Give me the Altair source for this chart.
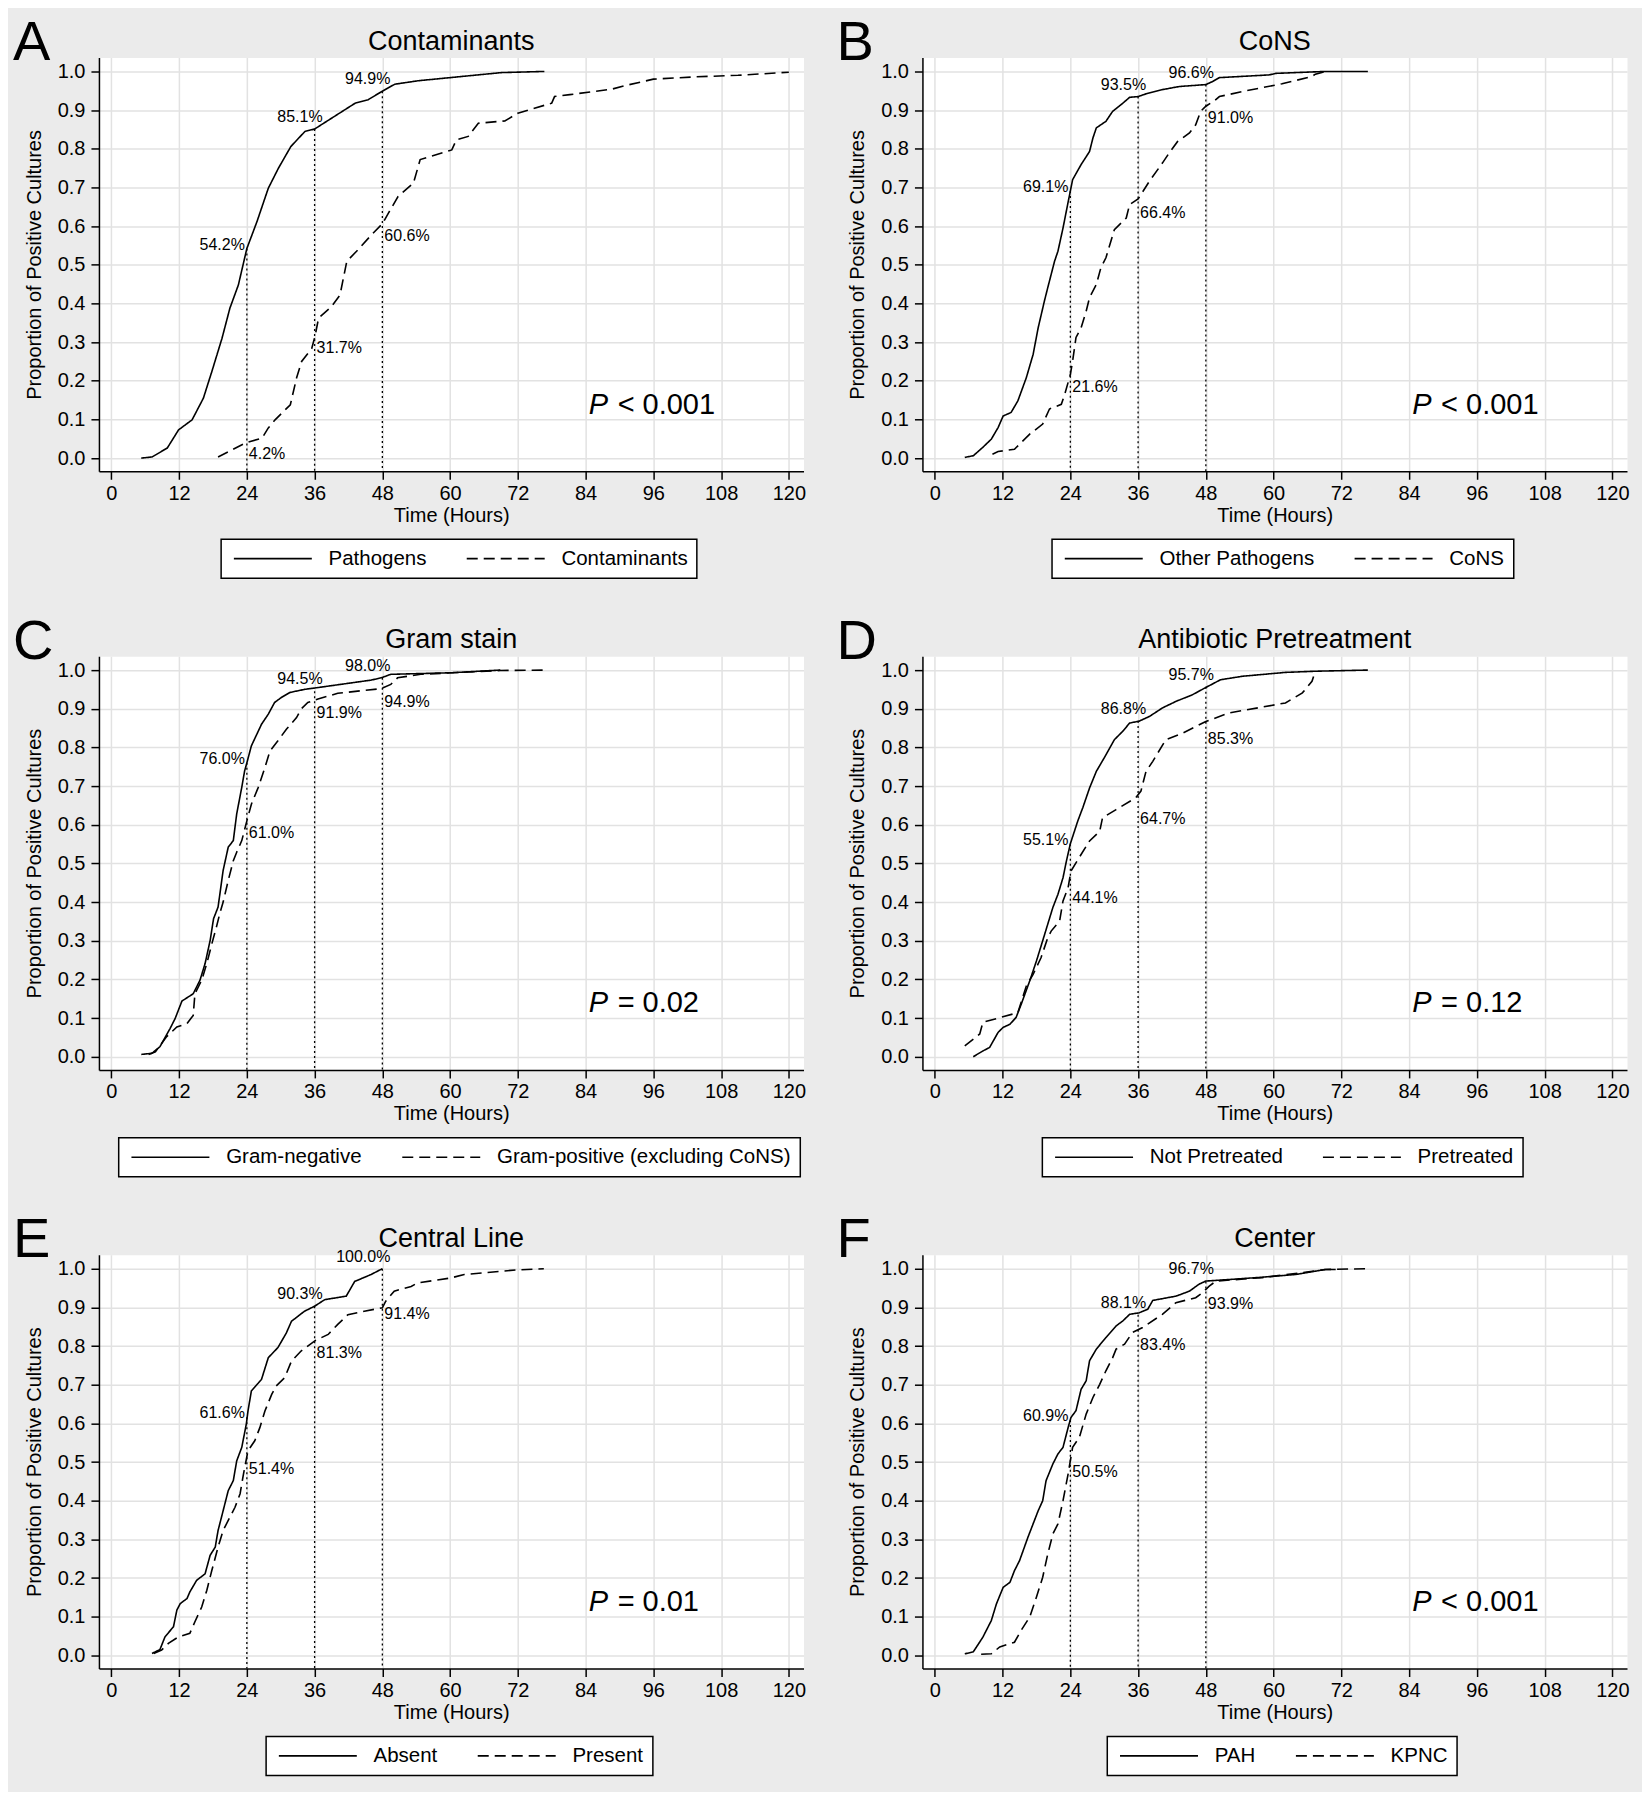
import altair as alt
import pandas as pd

FONT = "Liberation Sans, Arial, Helvetica, sans-serif"

# ---------------- data ----------------
MARK_TIMES = [24, 36, 48]

# Panel A - Contaminants
A_PATH_T = [5.3, 7.2, 9.9, 11.9, 14.3, 16.3, 17.8, 19.6, 21.0, 22.5, 23.6, 24.0, 25.8, 27.8, 29.6, 31.8, 34.3, 36.0, 39.0, 43.2, 45.5, 48.0, 50.2, 54.4, 60.0, 69.1, 76.7]
A_PATH_P = [0.0, 0.003, 0.026, 0.073, 0.099, 0.155, 0.224, 0.31, 0.388, 0.448, 0.517, 0.542, 0.612, 0.698, 0.75, 0.806, 0.845, 0.851, 0.879, 0.918, 0.927, 0.949, 0.967, 0.976, 0.984, 0.997, 1.0]
A_CONT_T = [18.9, 23.7, 26.7, 27.8, 29.0, 31.7, 32.8, 33.7, 35.5, 36.1, 36.7, 39.0, 40.5, 41.7, 43.7, 46.1, 48.0, 49.1, 50.8, 53.5, 54.7, 60.3, 61.1, 63.2, 65.0, 69.7, 72.0, 78.0, 78.5, 81.2, 88.6, 90.9, 96.0, 103.5, 111.0, 120.0]
A_CONT_P = [0.003, 0.039, 0.052, 0.078, 0.099, 0.138, 0.207, 0.25, 0.284, 0.317, 0.362, 0.392, 0.422, 0.509, 0.539, 0.578, 0.606, 0.634, 0.677, 0.711, 0.772, 0.797, 0.823, 0.832, 0.866, 0.872, 0.892, 0.918, 0.935, 0.94, 0.954, 0.963, 0.98, 0.986, 0.99, 0.998]
A_UPPER = [54.2, 85.1, 94.9]
A_LOWER = [4.2, 31.7, 60.6]

# Panel B - CoNS
B_OTH_T = [5.3, 6.8, 8.5, 10.0, 11.2, 12.1, 13.5, 14.7, 16.2, 17.4, 18.3, 19.4, 20.0, 21.2, 21.8, 22.7, 23.4, 24.0, 24.4, 25.9, 27.4, 28.0, 28.6, 30.3, 31.5, 33.3, 34.5, 36.0, 37.4, 40.3, 43.3, 48.0, 49.2, 50.4, 59.2, 60.4, 69.2, 76.7]
B_OTH_P = [0.002, 0.006, 0.028, 0.049, 0.079, 0.109, 0.118, 0.148, 0.208, 0.268, 0.337, 0.406, 0.441, 0.509, 0.535, 0.595, 0.647, 0.691, 0.72, 0.759, 0.793, 0.828, 0.854, 0.871, 0.897, 0.918, 0.933, 0.935, 0.942, 0.953, 0.961, 0.966, 0.974, 0.984, 0.991, 0.995, 1.0, 1.0]
B_CONS_T = [10.2, 11.2, 14.1, 16.8, 19.1, 20.3, 22.4, 23.0, 24.0, 24.4, 25.0, 25.9, 26.8, 27.4, 28.6, 29.4, 30.3, 31.8, 33.9, 34.5, 36.0, 38.0, 40.3, 41.5, 43.0, 45.1, 46.2, 47.1, 48.0, 49.5, 50.4, 55.1, 61.5, 66.8, 67.4, 69.2]
B_CONS_P = [0.010, 0.017, 0.023, 0.062, 0.088, 0.127, 0.139, 0.165, 0.216, 0.251, 0.312, 0.337, 0.38, 0.415, 0.449, 0.492, 0.518, 0.591, 0.621, 0.656, 0.67, 0.716, 0.763, 0.789, 0.819, 0.841, 0.862, 0.897, 0.910, 0.924, 0.935, 0.95, 0.968, 0.987, 0.993, 1.0]
B_UPPER = [69.1, 93.5, 96.6]
B_LOWER = [21.6, 66.4, 91.0]

# Panel C - Gram stain
C_NEG_T = [5.3, 7.2, 8.6, 10.4, 11.3, 12.5, 14.5, 15.7, 16.6, 17.5, 18.1, 18.9, 19.8, 20.7, 21.6, 22.2, 23.1, 23.6, 24.0, 24.8, 26.6, 27.8, 28.9, 30.1, 31.6, 34.2, 37.2, 46.0, 47.8, 49.5, 60.1, 68.9]
C_NEG_P = [0.006, 0.009, 0.026, 0.073, 0.099, 0.144, 0.163, 0.198, 0.241, 0.301, 0.357, 0.387, 0.482, 0.542, 0.559, 0.628, 0.697, 0.739, 0.760, 0.804, 0.86, 0.886, 0.916, 0.929, 0.942, 0.95, 0.956, 0.974, 0.98, 0.989, 0.993, 1.0]
C_POS_T = [6.6, 7.8, 9.8, 11.6, 13.4, 14.5, 14.8, 16.0, 16.9, 17.8, 18.6, 19.2, 19.8, 20.7, 21.6, 22.2, 23.1, 24.0, 24.8, 26.0, 27.2, 28.1, 29.5, 31.0, 32.8, 33.6, 34.8, 36.6, 40.1, 47.8, 49.5, 50.7, 54.8, 68.9, 76.6]
C_POS_P = [0.006, 0.013, 0.052, 0.077, 0.086, 0.107, 0.163, 0.198, 0.241, 0.292, 0.335, 0.37, 0.4, 0.456, 0.507, 0.529, 0.559, 0.610, 0.653, 0.696, 0.748, 0.791, 0.817, 0.847, 0.877, 0.899, 0.916, 0.925, 0.94, 0.952, 0.963, 0.98, 0.989, 0.999, 1.0]
C_UPPER = [76.0, 94.5, 98.0]
C_LOWER = [61.0, 91.9, 94.9]

# Panel D - Antibiotic Pretreatment
D_NOT_T = [6.8, 8.5, 9.7, 11.2, 12.1, 13.3, 14.4, 15.3, 16.8, 18.0, 19.1, 20.0, 20.9, 21.8, 22.7, 23.3, 24.0, 25.3, 26.2, 27.4, 28.6, 30.0, 31.8, 33.3, 34.5, 36.2, 38.0, 40.3, 42.7, 45.6, 48.0, 50.6, 54.5, 62.1, 67.4, 76.7]
D_NOT_P = [0.0, 0.015, 0.024, 0.063, 0.076, 0.084, 0.102, 0.136, 0.196, 0.248, 0.3, 0.343, 0.386, 0.42, 0.463, 0.506, 0.551, 0.609, 0.644, 0.695, 0.738, 0.773, 0.82, 0.842, 0.863, 0.868, 0.88, 0.902, 0.919, 0.936, 0.955, 0.975, 0.984, 0.994, 0.997, 1.0]
D_PRE_T = [5.3, 7.95, 8.5, 14.7, 16.2, 17.4, 18.8, 20.0, 20.6, 22.1, 22.7, 23.6, 24.1, 25.9, 27.4, 29.2, 29.7, 32.1, 35.6, 36.5, 37.4, 38.6, 40.9, 43.9, 48.0, 52.1, 62.1, 65.1, 66.8, 67.4]
D_PRE_P = [0.028, 0.059, 0.089, 0.114, 0.183, 0.213, 0.256, 0.308, 0.325, 0.351, 0.403, 0.437, 0.48, 0.523, 0.558, 0.583, 0.618, 0.639, 0.67, 0.687, 0.738, 0.764, 0.82, 0.837, 0.867, 0.889, 0.915, 0.941, 0.971, 0.998]
D_UPPER = [55.1, 86.8, 95.7]
D_LOWER = [44.1, 64.7, 85.3]

# Panel E - Central Line
E_ABS_T = [7.2, 8.6, 9.5, 11.0, 11.6, 12.2, 13.4, 13.9, 15.1, 16.6, 17.5, 18.4, 18.9, 19.5, 20.7, 21.6, 22.2, 23.1, 23.9, 24.2, 24.8, 26.6, 27.8, 29.5, 31.0, 31.9, 34.2, 36.0, 37.8, 41.6, 43.1, 46.0, 48.0]
E_ABS_P = [0.005, 0.015, 0.048, 0.074, 0.117, 0.134, 0.147, 0.164, 0.194, 0.211, 0.259, 0.28, 0.323, 0.357, 0.426, 0.452, 0.503, 0.538, 0.598, 0.632, 0.684, 0.714, 0.77, 0.796, 0.834, 0.864, 0.89, 0.903, 0.92, 0.929, 0.967, 0.985, 1.0]
E_PRES_T = [7.5, 8.9, 10.1, 11.9, 13.9, 14.8, 16.0, 16.9, 17.8, 18.9, 19.8, 20.7, 21.9, 22.8, 23.4, 24.2, 25.4, 26.3, 27.2, 28.4, 29.2, 30.7, 31.9, 33.6, 36.1, 38.4, 40.1, 41.9, 44.8, 48.0, 48.6, 50.1, 53.1, 54.2, 60.1, 62.5, 71.9, 76.6]
E_PRES_P = [0.005, 0.014, 0.031, 0.048, 0.057, 0.087, 0.125, 0.168, 0.22, 0.28, 0.323, 0.349, 0.383, 0.418, 0.469, 0.529, 0.555, 0.589, 0.632, 0.675, 0.697, 0.718, 0.761, 0.787, 0.814, 0.83, 0.856, 0.881, 0.89, 0.899, 0.916, 0.942, 0.954, 0.963, 0.976, 0.985, 0.997, 1.0]
E_UPPER = [61.6, 90.3, 100.0]
E_LOWER = [51.4, 81.3, 91.4]

# Panel F - Center
F_PAH_T = [5.3, 6.8, 8.5, 10.0, 10.9, 12.1, 13.3, 14.1, 15.0, 16.5, 17.4, 18.3, 19.1, 19.7, 20.9, 21.8, 22.7, 23.6, 24.1, 25.0, 25.9, 26.8, 27.4, 28.6, 30.3, 32.1, 33.3, 34.5, 36.2, 37.7, 38.6, 42.7, 45.1, 46.8, 48.0, 52.1, 58.0, 63.9, 69.2, 71.0]
F_PAH_P = [0.004, 0.009, 0.047, 0.09, 0.133, 0.176, 0.189, 0.219, 0.245, 0.306, 0.34, 0.374, 0.4, 0.452, 0.495, 0.521, 0.538, 0.589, 0.615, 0.633, 0.688, 0.71, 0.762, 0.792, 0.822, 0.852, 0.865, 0.882, 0.886, 0.895, 0.918, 0.929, 0.942, 0.96, 0.968, 0.972, 0.978, 0.985, 0.998, 0.998]
F_KPNC_T = [8.2, 10.0, 11.5, 14.1, 15.3, 16.8, 18.0, 19.1, 20.0, 20.9, 21.8, 22.7, 23.6, 24.4, 25.6, 26.8, 28.0, 29.2, 30.3, 31.5, 32.1, 33.6, 35.0, 36.8, 40.3, 42.7, 46.2, 47.4, 48.6, 49.8, 58.0, 65.1, 69.2, 76.8]
F_KPNC_P = [0.003, 0.004, 0.022, 0.034, 0.065, 0.099, 0.151, 0.202, 0.262, 0.314, 0.34, 0.4, 0.469, 0.538, 0.564, 0.624, 0.667, 0.701, 0.736, 0.77, 0.792, 0.805, 0.835, 0.848, 0.882, 0.912, 0.925, 0.938, 0.955, 0.968, 0.977, 0.99, 0.998, 1.0]
F_UPPER = [60.9, 88.1, 96.7]
F_LOWER = [50.5, 83.4, 93.9]

X_TICKS = [0, 12, 24, 36, 48, 60, 72, 84, 96, 108, 120]
Y_TICKS = [0.0, 0.1, 0.2, 0.3, 0.4, 0.5, 0.6, 0.7, 0.8, 0.9, 1.0]

PANELS = [
    dict(letter="A", title="Contaminants", groups=["Pathogens", "Contaminants"],
         curves=[(A_PATH_T, A_PATH_P), (A_CONT_T, A_CONT_P)], upper=A_UPPER, lower=A_LOWER, ptext="< 0.001"),
    dict(letter="B", title="CoNS", groups=["Other Pathogens", "CoNS"],
         curves=[(B_OTH_T, B_OTH_P), (B_CONS_T, B_CONS_P)], upper=B_UPPER, lower=B_LOWER, ptext="< 0.001"),
    dict(letter="C", title="Gram stain", groups=["Gram-negative", "Gram-positive (excluding CoNS)"],
         curves=[(C_NEG_T, C_NEG_P), (C_POS_T, C_POS_P)], upper=C_UPPER, lower=C_LOWER, ptext="= 0.02"),
    dict(letter="D", title="Antibiotic Pretreatment", groups=["Not Pretreated", "Pretreated"],
         curves=[(D_NOT_T, D_NOT_P), (D_PRE_T, D_PRE_P)], upper=D_UPPER, lower=D_LOWER, ptext="= 0.12"),
    dict(letter="E", title="Central Line", groups=["Absent", "Present"],
         curves=[(E_ABS_T, E_ABS_P), (E_PRES_T, E_PRES_P)], upper=E_UPPER, lower=E_LOWER, ptext="= 0.01"),
    dict(letter="F", title="Center", groups=["PAH", "KPNC"],
         curves=[(F_PAH_T, F_PAH_P), (F_KPNC_T, F_KPNC_P)], upper=F_UPPER, lower=F_LOWER, ptext="< 0.001"),
]

# ---------------- layout / style ----------------
W, H = 705, 414
LEG_FS, LEG_PAD, SYM, LAB_GAP, COL_PAD = 20.5, 9, 78, 13, 36
# legend symbol: a horizontal stroke drawn by a custom path; its nominal size is small so the
# legend row stays as tall as the text, the path itself spans SYM pixels.
SYM_UNIT = 13                       # sqrt(symbolSize)
SYM_PATH = "M-6,0H6"                # 12 units * SYM_UNIT/2 = 78 px
SYM_OFFSET = SYM / 2 - SYM_UNIT / 2
LAB_OFF = SYM + LAB_GAP - SYM_UNIT - SYM_OFFSET

CW = {' ': 278, '(': 333, ')': 333, '-': 333, 'A': 667, 'B': 667, 'C': 722, 'D': 722, 'E': 667,
      'F': 611, 'G': 778, 'H': 722, 'I': 278, 'K': 667, 'L': 556, 'M': 833, 'N': 722, 'O': 778,
      'P': 667, 'R': 722, 'S': 667, 'T': 611, 'a': 556, 'b': 556, 'c': 500, 'd': 556, 'e': 556,
      'f': 278, 'g': 556, 'h': 556, 'i': 222, 'l': 222, 'm': 833, 'n': 556, 'o': 556, 'p': 556,
      'r': 333, 's': 500, 't': 278, 'u': 556, 'v': 500, 'x': 500, 'y': 500}


def text_w(s, size):
    return sum(CW.get(c, 556) for c in s) * size / 1000.0


def legend_x(labels):
    w = 2 * LEG_PAD + 2 * (SYM + LAB_GAP) + COL_PAD + sum(text_w(s, LEG_FS) for s in labels)
    return W / 2 - w / 2


XS = alt.Scale(domain=[-2.2, 122.6], nice=False, zero=False)
YS = alt.Scale(domain=[-0.034, 1.036], nice=False, zero=False)
XAX = alt.Axis(values=X_TICKS, title="Time (Hours)", labelFlush=False, labelOverlap=False)
YAX = alt.Axis(values=Y_TICKS, format=".1f", title="Proportion of Positive Cultures",
               labelFlush=False, labelOverlap=False)


def xenc():
    return alt.X("t:Q", scale=XS, axis=XAX)


def yenc():
    return alt.Y("p:Q", scale=YS, axis=YAX)


def panel(spec):
    g1, g2 = spec["groups"]
    rows = []
    for g, (ts, ps) in zip(spec["groups"], spec["curves"]):
        rows += [{"t": t, "p": p, "group": g} for t, p in zip(ts, ps)]
    cdf = pd.DataFrame(rows)

    lines = alt.Chart(cdf).mark_line(color="black", strokeWidth=1.6).encode(
        x=xenc(), y=yenc(),
        strokeDash=alt.StrokeDash(
            "group:N",
            scale=alt.Scale(domain=[g1, g2], range=[[1, 0], [11, 6]]),
            legend=alt.Legend(title=None, orient="none", direction="horizontal", columns=2,
                              legendX=legend_x(spec["groups"]), legendY=482),
        ),
    )

    mdf = pd.DataFrame({"t": MARK_TIMES, "p": [u / 100 for u in spec["upper"]]})
    rules = alt.Chart(mdf).mark_rule(color="black", strokeWidth=1.3, strokeDash=[2, 3]).encode(
        x=xenc(), y=yenc(), y2=alt.value(H))

    lrows = []
    for i, t in enumerate(MARK_TIMES):
        u, l = spec["upper"][i], spec["lower"][i]
        lrows.append({"t": t, "p": u / 100, "txt": f"{u:.1f}%", "kind": "u24" if i == 0 else "u"})
        lrows.append({"t": t, "p": l / 100, "txt": f"{l:.1f}%", "kind": "l"})
    ldf = pd.DataFrame(lrows)
    tstyle = dict(font=FONT, fontSize=16, color="black", baseline="middle")
    up24 = alt.Chart(ldf).transform_filter("datum.kind == 'u24'").mark_text(
        align="right", dx=-2, dy=-4, **tstyle).encode(x=xenc(), y=yenc(), text="txt:N")
    up = alt.Chart(ldf).transform_filter("datum.kind == 'u'").mark_text(
        align="right", dx=8, dy=-12, **tstyle).encode(x=xenc(), y=yenc(), text="txt:N")
    low = alt.Chart(ldf).transform_filter("datum.kind == 'l'").mark_text(
        align="left", dx=2, dy=12, **tstyle).encode(x=xenc(), y=yenc(), text="txt:N")

    meta = pd.DataFrame([{"letter": spec["letter"], "title": spec["title"], "ptext": spec["ptext"]}])
    p_it = alt.Chart(meta).mark_text(text="P", font=FONT, fontSize=29, fontStyle="italic",
                                     align="left", baseline="middle", color="black").encode(
        x=alt.value(490), y=alt.value(347.5))
    p_rest = alt.Chart(meta).mark_text(font=FONT, fontSize=29, align="left", baseline="middle",
                                       color="black").encode(
        x=alt.value(519), y=alt.value(347.5), text="ptext:N")
    letter = alt.Chart(meta).mark_text(font=FONT, fontSize=56, align="left", baseline="alphabetic",
                                       color="black").encode(
        x=alt.value(-86), y=alt.value(2.5), text="letter:N")
    title = alt.Chart(meta).mark_text(font=FONT, fontSize=27, align="center", baseline="alphabetic",
                                      color="black").encode(
        x=alt.value(W / 2), y=alt.value(-8), text="title:N")

    return alt.layer(rules, lines, up24, up, low, p_it, p_rest, letter, title).properties(
        width=W, height=H)


chart = alt.concat(*[panel(s) for s in PANELS], columns=2,
                   spacing={"row": 185, "column": 119}, bounds="flush")
chart = chart.resolve_scale(strokeDash="independent").resolve_legend(strokeDash="independent")

chart = chart.configure(
    background="#ebebeb",
    padding={"left": 4, "top": 6, "right": 12, "bottom": 14},
    font=FONT,
).configure_view(
    fill="white", stroke="transparent"
).configure_axis(
    domainColor="black", domainWidth=1.5, tickColor="black", tickWidth=1.5, tickSize=8,
    labelFont=FONT, labelFontSize=20, labelColor="black",
    titleFont=FONT, titleFontSize=20, titleFontWeight="normal", titleColor="black",
    gridColor="#e2e2e2", gridWidth=1.5,
).configure_axisX(
    labelPadding=4, titlePadding=2
).configure_axisY(
    labelPadding=6, titlePadding=13
).configure_legend(
    strokeColor="black", fillColor="white", padding=LEG_PAD, strokeWidth=1.5,
    labelFont=FONT, labelFontSize=LEG_FS, labelColor="black", labelLimit=600,
    symbolType=SYM_PATH, symbolSize=SYM_UNIT * SYM_UNIT, symbolOffset=SYM_OFFSET,
    symbolStrokeWidth=1.6, symbolStrokeColor="black",
    labelOffset=LAB_OFF, columnPadding=COL_PAD,
)

chart.save("out.html", embed_options={"renderer": "svg", "actions": False})
